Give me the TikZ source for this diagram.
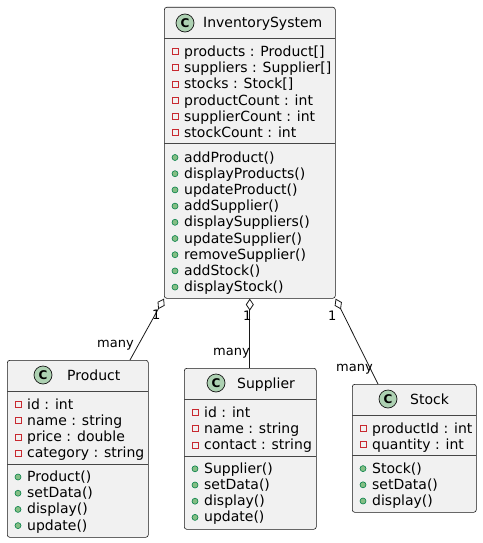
\documentclass[tikz,border=0pt]{standalone}
\usepackage{fontspec}
\setmainfont{DejaVu Sans}
\usetikzlibrary{arrows.meta}

\definecolor{boxfill}{HTML}{F1F1F1}
\definecolor{ink}{HTML}{181818}
\definecolor{spotfill}{HTML}{ADD1B2}
\definecolor{privred}{HTML}{C82930}
\definecolor{pubfill}{HTML}{84BE84}
\definecolor{publine}{HTML}{038048}

\tikzset{
  classbox/.style={draw=ink, fill=boxfill, line width=0.6pt, rounded corners=2.5pt,
                   inner sep=0pt, anchor=north west},
  sepline/.style={draw=ink!80, line width=0.5pt},
  spot/.style={circle, draw=ink, fill=spotfill, line width=0.7pt, minimum size=18pt,
               inner sep=0pt, font=\fontsize{12}{12}\selectfont\bfseries},
  title/.style={anchor=base west, inner sep=0pt, font=\fontsize{14}{16}\selectfont},
  member/.style={anchor=base west, inner sep=0pt, font=\fontsize{14}{16}\selectfont},
  privicon/.style={draw=privred, line width=0.6pt},
  pubicon/.style={draw=publine, fill=pubfill, line width=0.6pt},
  assoc/.style={draw=ink, line width=0.8pt,
                {Diamond[open, length=12pt, width=8pt]}-},
  mult/.style={anchor=base west, inner sep=0pt, font=\fontsize{13}{15}\selectfont}
}

\begin{document}
\begin{tikzpicture}[x=1pt, y=-1pt]
\useasboundingbox (0,0) rectangle (482,543);

% ---------------- InventorySystem ----------------
\node[classbox, minimum width=171pt, minimum height=291pt] (inv) at (164,7) {};
\node[spot] (inv-c) at (185,23) {C};
\node[title] (inv-t) at (203,28) {InventorySystem};
\draw[sepline] (164,38.5) -- (335,38.5);
\foreach \t [count=\i from 0] in {products : Product[], suppliers : Supplier[],
    stocks : Stock[], productCount : int, supplierCount : int, stockCount : int} {
  \node[member] (inv-a\i) at (184,56.5+16.2*\i) {\t};
  \draw[privicon] (172,53-4.5+16.2*\i) rectangle ++(6,6);
}
\draw[sepline] (164,143.5) -- (335,143.5);
\foreach \t [count=\i from 0] in {addProduct(), displayProducts(), updateProduct(),
    addSupplier(), displaySuppliers(), updateSupplier(), removeSupplier(),
    addStock(), displayStock()} {
  \node[member] (inv-m\i) at (184,162+16.2*\i) {\t};
  \draw[pubicon] (175,157.5+16.2*\i) circle[radius=3pt];
}

% ---------------- Product ----------------
\node[classbox, minimum width=141pt, minimum height=177pt] (prod) at (7,360) {};
\node[spot] (prod-c) at (43,375) {C};
\node[title] (prod-t) at (67,380.5) {Product};
\draw[sepline] (7,391.5) -- (148,391.5);
\foreach \t [count=\i from 0] in {id : int, name : string, price : double, category : string} {
  \node[member] (prod-a\i) at (27,409+16.2*\i) {\t};
  \draw[privicon] (15,401.5+16.2*\i) rectangle ++(6,6);
}
\draw[sepline] (7,464) -- (148,464);
\foreach \t [count=\i from 0] in {Product(), setData(), display(), update()} {
  \node[member] (prod-m\i) at (27,481.5+16.2*\i) {\t};
  \draw[pubicon] (18,477+16.2*\i) circle[radius=3pt];
}

% ---------------- Supplier ----------------
\node[classbox, minimum width=132pt, minimum height=161pt] (sup) at (184,368) {};
\node[spot] (sup-c) at (216,383) {C};
\node[title] (sup-t) at (237,388.5) {Supplier};
\draw[sepline] (184,399.5) -- (316,399.5);
\foreach \t [count=\i from 0] in {id : int, name : string, contact : string} {
  \node[member] (sup-a\i) at (204,417+16.2*\i) {\t};
  \draw[privicon] (192,409.5+16.2*\i) rectangle ++(6,6);
}
\draw[sepline] (184,455.8) -- (316,455.8);
\foreach \t [count=\i from 0] in {Supplier(), setData(), display(), update()} {
  \node[member] (sup-m\i) at (204,473.3+16.2*\i) {\t};
  \draw[pubicon] (195,468.8+16.2*\i) circle[radius=3pt];
}

% ---------------- Stock ----------------
\node[classbox, minimum width=124pt, minimum height=128pt] (stk) at (352,384) {};
\node[spot] (stk-c) at (388,399) {C};
\node[title] (stk-t) at (410,404.5) {Stock};
\draw[sepline] (352,415.5) -- (476,415.5);
\foreach \t [count=\i from 0] in {productId : int, quantity : int} {
  \node[member] (stk-a\i) at (372,433+16.2*\i) {\t};
  \draw[privicon] (360,425.5+16.2*\i) rectangle ++(6,6);
}
\draw[sepline] (352,455.6) -- (476,455.6);
\foreach \t [count=\i from 0] in {Stock(), setData(), display()} {
  \node[member] (stk-m\i) at (372,473.1+16.2*\i) {\t};
  \draw[pubicon] (363,468.6+16.2*\i) circle[radius=3pt];
}

% ---------------- aggregations ----------------
\draw[assoc] (inv.south west) -- ([xshift=123pt]prod.north west);
\draw[assoc] (inv.south) -- (inv.south |- sup.north);
\draw[assoc] (inv.south east) -- ([xshift=26pt]stk.north west);

% multiplicities
\node[mult] (m1a) at (152,319) {1};
\node[mult] (m1b) at (97,347) {many};
\node[mult] (m2a) at (243,320.5) {1};
\node[mult] (m2b) at (213,355) {many};
\node[mult] (m3a) at (328,320) {1};
\node[mult] (m3b) at (336,371.5) {many};
\end{tikzpicture}
\end{document}
